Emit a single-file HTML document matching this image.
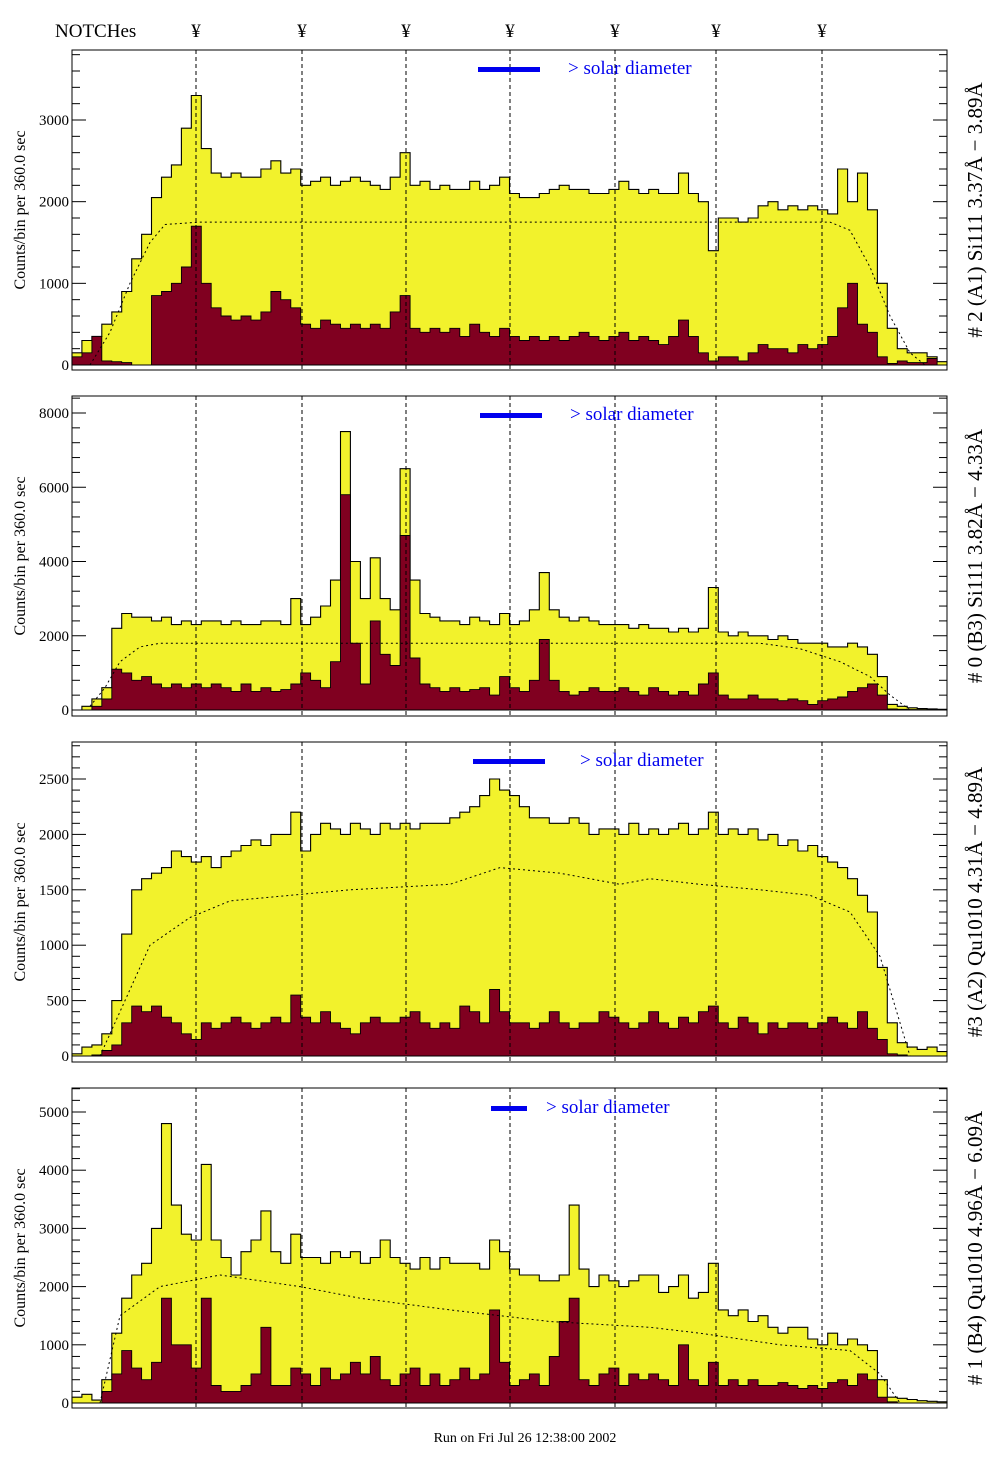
<!DOCTYPE html>
<html><head><meta charset="utf-8"><style>
body{margin:0;background:#fff}
svg{display:block}
text{font-family:"Liberation Serif",serif}
</style></head><body>
<svg id="c" width="1004" height="1476" viewBox="0 0 1004 1476" xmlns="http://www.w3.org/2000/svg"></svg>
<script>
const p1Yellow=[150,300,350,500,650,900,1300,1600,2050,2300,2450,2900,3300,2650,2350,2300,2350,2300,2300,2400,2500,2350,2400,2200,2250,2300,2200,2250,2300,2250,2200,2150,2300,2600,2200,2250,2150,2200,2150,2150,2250,2150,2200,2300,2100,2050,2050,2100,2150,2200,2150,2150,2100,2100,2150,2250,2150,2100,2150,2100,2100,2350,2100,2000,1400,1800,1800,1750,1800,1950,2000,1900,1950,1900,1950,1900,1850,2400,2000,2350,1900,1000,450,200,150,150,100,40];
const p1Red=[100,150,350,50,40,30,0,0,850,900,1000,1200,1700,1000,700,600,550,600,550,650,900,800,700,500,450,550,500,450,500,450,500,450,650,850,450,400,450,400,450,350,500,400,350,450,350,300,350,300,350,300,350,400,350,300,350,400,300,350,300,250,350,550,350,150,50,100,100,50,150,250,200,200,150,250,200,250,350,700,1000,500,400,100,20,50,30,30,80,0];
const p2Yellow=[0,100,300,600,2200,2600,2500,2500,2400,2500,2300,2400,2300,2400,2400,2300,2400,2300,2300,2400,2400,2300,3000,2300,2500,2800,3500,7500,4000,3000,4100,3000,2700,6500,3500,2600,2500,2400,2400,2300,2500,2400,2300,2600,2300,2400,2700,3700,2700,2500,2400,2500,2400,2300,2300,2300,2200,2300,2200,2200,2100,2200,2100,2200,3300,2100,2000,2100,2000,2000,1900,2000,1900,1800,1800,1800,1700,1700,1800,1700,1500,900,150,100,60,40,30,20];
const p2Red=[0,0,100,300,1100,1000,800,900,700,600,700,600,700,600,700,600,500,700,500,600,500,550,700,1000,800,600,1300,5800,1800,700,2400,1500,1200,4700,1400,700,600,500,600,500,550,600,400,900,600,500,800,1900,800,500,400,500,600,500,500,600,500,400,600,500,400,500,400,700,1000,400,300,300,400,300,300,250,300,250,150,250,300,350,500,600,700,400,30,20,10,10,5,0];
const p3Yellow=[20,80,100,200,500,1100,1500,1600,1650,1700,1850,1800,1750,1800,1700,1800,1850,1900,1950,1900,2000,2000,2200,1850,2000,2100,2050,2000,2100,2050,2000,2100,2050,2100,2050,2100,2100,2100,2150,2200,2250,2350,2500,2400,2350,2250,2150,2150,2100,2100,2150,2100,2000,2050,2050,2000,2100,2000,2050,2000,2050,2100,2000,2050,2200,2000,2050,2000,2050,1950,2000,1900,1950,1850,1900,1800,1750,1700,1600,1450,1300,800,300,120,80,60,80,40];
const p3Red=[0,0,10,50,100,300,450,400,450,350,300,200,150,300,250,300,350,300,250,300,350,300,550,350,300,400,300,250,200,300,350,300,300,350,400,300,250,300,250,450,400,300,600,400,300,300,250,300,400,300,250,300,300,400,350,300,250,300,400,300,250,350,300,400,450,300,250,350,300,200,300,250,300,300,250,300,350,300,250,400,250,150,20,10,0,0,0,0];
const p4Yellow=[100,150,50,400,1200,1800,2200,2400,3000,4800,3400,2900,2800,4100,2800,2500,2200,2600,2800,3300,2600,2400,2900,2500,2500,2400,2600,2500,2600,2400,2500,2800,2500,2400,2300,2500,2300,2500,2400,2400,2400,2300,2800,2600,2300,2200,2200,2100,2100,2200,3400,2300,2000,2200,2100,2000,2100,2200,2200,1900,2000,2200,1800,1900,2400,1600,1500,1600,1400,1500,1300,1200,1300,1300,1100,1000,1200,1000,1100,1000,900,400,100,80,60,40,30,20];
const p4Red=[0,0,0,200,500,900,600,400,700,1800,1000,1000,600,1800,300,200,200,300,500,1300,300,300,600,500,300,600,400,500,700,500,800,400,300,500,600,300,500,300,400,600,400,500,1600,700,300,400,500,300,800,1400,1800,400,300,500,600,300,500,400,500,400,300,1000,400,300,700,300,400,300,400,300,300,350,300,250,300,250,350,400,300,500,400,100,20,0,0,0,0,0];
const p1CurveX=[90,110,130,150,165,200,830,850,870,890,910,925];
const p1CurveV=[0,400,1000,1500,1720,1750,1750,1650,1200,600,150,0];
const p2CurveX=[90,105,120,140,160,200,760,800,840,870,890,910];
const p2CurveV=[100,600,1300,1700,1800,1800,1800,1650,1300,900,400,0];
const p3CurveX=[100,125,150,190,230,350,450,500,560,620,650,700,760,810,850,880,910];
const p3CurveV=[0,500,1000,1250,1400,1500,1550,1700,1650,1550,1600,1550,1500,1450,1300,900,0];
const p4CurveX=[100,120,160,220,300,360,450,550,650,700,780,850,880,900];
const p4CurveV=[0,1500,2000,2200,2000,1800,1600,1400,1300,1200,1000,900,500,0];
const notchX=[196,302,406,510,615,716,822];

const svg=document.getElementById('c');
const NS='http://www.w3.org/2000/svg';
function mk(tag,attrs,parent){const e=document.createElementNS(NS,tag);for(const k in attrs)e.setAttribute(k,attrs[k]);(parent||svg).appendChild(e);return e;}
const X0=72,X1=947;
const panels=[
 {top:50,bot:370,zeroY:365,maxV:3000,maxY:120,major:1000,minor:200,yel:p1Yellow,red:p1Red,cx:p1CurveX,cv:p1CurveV,title:"# 2 (A1) Si111  3.37Å − 3.89Å",legX:478,legY:69},
 {top:396,bot:716,zeroY:710,maxV:8000,maxY:413,major:2000,minor:400,yel:p2Yellow,red:p2Red,cx:p2CurveX,cv:p2CurveV,title:"# 0 (B3) Si111  3.82Å − 4.33Å",legX:480,legY:415},
 {top:742,bot:1062,zeroY:1056,maxV:2500,maxY:779,major:500,minor:100,yel:p3Yellow,red:p3Red,cx:p3CurveX,cv:p3CurveV,title:"#3 (A2) Qu1010  4.31Å − 4.89Å",legX:473,legY:761},
 {top:1088,bot:1408,zeroY:1403,maxV:5000,maxY:1112,major:1000,minor:200,yel:p4Yellow,red:p4Red,cx:p4CurveX,cv:p4CurveV,title:"# 1 (B4) Qu1010 4.96Å − 6.09Å",legX:491,legY:1108}
];
panels.forEach((p,pi)=>{
  const g=mk('g',{});
  
  
  const yS=v=>Math.max(p.top+1,p.zeroY-(v/p.maxV)*(p.zeroY-p.maxY));
  const n=p.yel.length, W=(X1-X0)/n;
  const xS=i=>X0+i*W;
  function step(arr){let d='M'+X0+','+p.zeroY;arr.forEach((v,i)=>{d+=' L'+xS(i).toFixed(1)+','+yS(v).toFixed(1)+' L'+xS(i+1).toFixed(1)+','+yS(v).toFixed(1);});d+=' L'+X1+','+p.zeroY+'Z';return d;}
  const yp=mk('path',{d:step(p.yel),fill:'#f2f22c',stroke:'#000','stroke-width':1.1},g);
  
  
  const rp=mk('path',{d:step(p.red),fill:'#800020',stroke:'#000','stroke-width':0.9},g);
  
  
  let cd='';p.cx.forEach((x,i)=>{cd+=(i?' L':'M')+x+','+yS(p.cv[i]).toFixed(1);});
  const cp=mk('path',{d:cd,fill:'none',stroke:'#000','stroke-width':1,'stroke-dasharray':'2,3'},g);
  
  
  notchX.forEach(x=>{const l=mk('line',{x1:x,x2:x,y1:p.top,y2:p.bot,stroke:'#000','stroke-width':1,'stroke-dasharray':'4,3'},g);
    
    });
  const fr=mk('rect',{x:X0,y:p.top,width:X1-X0,height:p.bot-p.top,fill:'none',stroke:'#000','stroke-width':1},g);
  
  
  for(let v=0;v*(p.zeroY-p.maxY)/p.maxV<=p.zeroY-p.top;v+=p.minor){
    const y=p.zeroY-(v/p.maxV)*(p.zeroY-p.maxY);const maj=(v%p.major===0);const L=maj?14:8;
    mk('line',{x1:X0,x2:X0+L,y1:y,y2:y,stroke:'#000'},g);
    mk('line',{x1:X1-L,x2:X1,y1:y,y2:y,stroke:'#000'},g);
    if(maj){const t=mk('text',{x:X0-3,y:y+5,'text-anchor':'end','font-size':15},g);t.textContent=v;
      
      }
  }
  const cy=(p.top+p.bot)/2;
  const yt=mk('text',{transform:'translate(25,'+cy+') rotate(-90)','text-anchor':'middle','font-size':16},g);
  yt.textContent='Counts/bin per      360.0 sec';
  
  
  const rt=mk('text',{transform:'translate(982,'+cy+') rotate(-90)','text-anchor':'middle','font-size':21},g);
  rt.textContent=p.title;
  
  
  const lb=mk('rect',{x:p.legX,y:p.legY-2,width:pi===2?72:(pi===3?36:62),height:5,fill:'#0000ee'},g);
  
  
  const lt=mk('text',{x:p.legX+(pi===2?107:(pi===3?55:90)),y:p.legY+5,'font-size':19,fill:'#0000ee'},g);
  lt.textContent='> solar diameter';
  
  
});
const nt=mk('text',{x:55,y:37,'font-size':19});
nt.textContent='NOTCHes';


notchX.forEach(x=>{const t=mk('text',{x:x,y:37,'text-anchor':'middle','font-size':19});t.textContent='¥';
  
  });
const ft=mk('text',{x:525,y:1442,'text-anchor':'middle','font-size':14});
ft.textContent='Run on Fri Jul 26 12:38:00 2002';


</script>
</body></html>
